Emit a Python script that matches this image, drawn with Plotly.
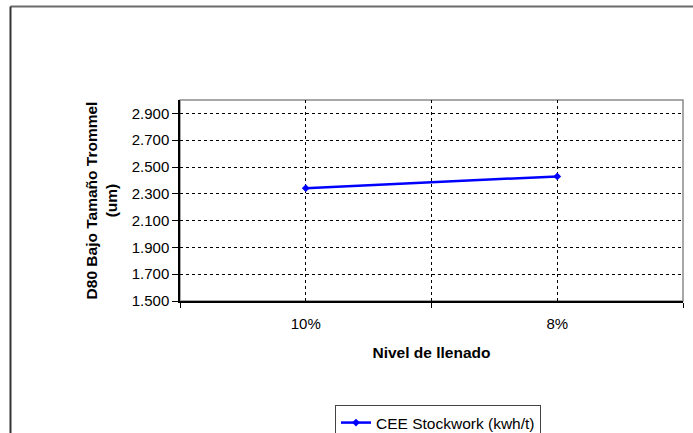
import plotly.graph_objects as go

# Data
categories = ["10%", "8%"]
d80_values = [2.342, 2.430]
series_name = "CEE Stockwork (kwh/t)"
y_ticks = [1.5, 1.7, 1.9, 2.1, 2.3, 2.5, 2.7, 2.9]
y_tick_labels = ["1.500", "1.700", "1.900", "2.100", "2.300", "2.500", "2.700", "2.900"]

W, H = 693, 433
L, R, T, B = 180, 10, 100, 132
pw, ph = W - L - R, H - T - B

x_pos = list(range(len(categories)))
mid_grid = [(x_pos[i] + x_pos[i + 1]) / 2 for i in range(len(x_pos) - 1)]

fig = go.Figure()
fig.add_trace(go.Scatter(
    x=x_pos, y=d80_values, mode="lines+markers", name=series_name,
    line=dict(color="#0000FF", width=2.5),
    marker=dict(symbol="diamond", size=6, color="#0000FF"),
))

font_family = "Liberation Sans, Arial, sans-serif"

fig.update_layout(
    width=W, height=H,
    margin=dict(l=L, r=R, t=T, b=B, autoexpand=False),
    paper_bgcolor="white", plot_bgcolor="white",
    font=dict(family=font_family, color="black", size=15),
    showlegend=True,
    legend=dict(
        x=(335 - L) / pw, y=(T + ph - 405) / ph, xanchor="left", yanchor="top",
        bordercolor="#444444", borderwidth=1, bgcolor="white",
        font=dict(size=15.5, family=font_family),
        itemwidth=30,
    ),
)

fig.update_xaxes(
    range=[-0.5, len(categories) - 0.5],
    tickvals=x_pos + mid_grid,
    ticktext=categories + [""] * len(mid_grid),
    ticks="",
    ticklabelstandoff=8,
    showgrid=True, gridcolor="black", gridwidth=1, griddash="3px,3px",
    showline=True, linecolor="black", linewidth=1.5,
    zeroline=False,
    minor=dict(tickvals=[-0.5] + mid_grid + [len(categories) - 0.5],
               ticks="outside", ticklen=5, tickcolor="black", showgrid=False),
    tickfont=dict(size=15),
    automargin=False,
    title=dict(text="<b>Nivel de llenado</b>", font=dict(size=15.5), standoff=16),
)

fig.update_yaxes(
    range=[1.5, 3.0],
    tickvals=y_ticks, ticktext=y_tick_labels,
    ticks="outside", ticklen=6, tickcolor="black",
    showgrid=True, gridcolor="black", gridwidth=1, griddash="3px,3px",
    showline=True, linecolor="black", linewidth=1.5,
    zeroline=False,
    tickfont=dict(size=15),
    automargin=False,
    title=dict(text="<b>D80 Bajo Tamaño Trommel<br>(um)</b>", font=dict(size=15.5), standoff=10),
)

# Plot-area frame (top and right edges in grey)
fig.add_shape(type="rect", xref="x domain", yref="y domain", x0=0, x1=1, y0=0, y1=1,
              line=dict(color="#8c8c8c", width=1.5), layer="below")

# Outer chart frame: top and left edges
fx0 = (10.5 - L) / pw
fx1 = (W - L) / pw
fy_top = 1 + (T - 6.5) / ph
fy_bot = -(H - (T + ph)) / ph
fig.add_shape(type="line", xref="paper", yref="paper", x0=fx0, x1=fx1, y0=fy_top, y1=fy_top,
              line=dict(color="#6b6b6b", width=2))
fig.add_shape(type="line", xref="paper", yref="paper", x0=fx0, x1=fx0, y0=fy_bot, y1=fy_top,
              line=dict(color="#333333", width=2))

fig.write_html("out.html")
